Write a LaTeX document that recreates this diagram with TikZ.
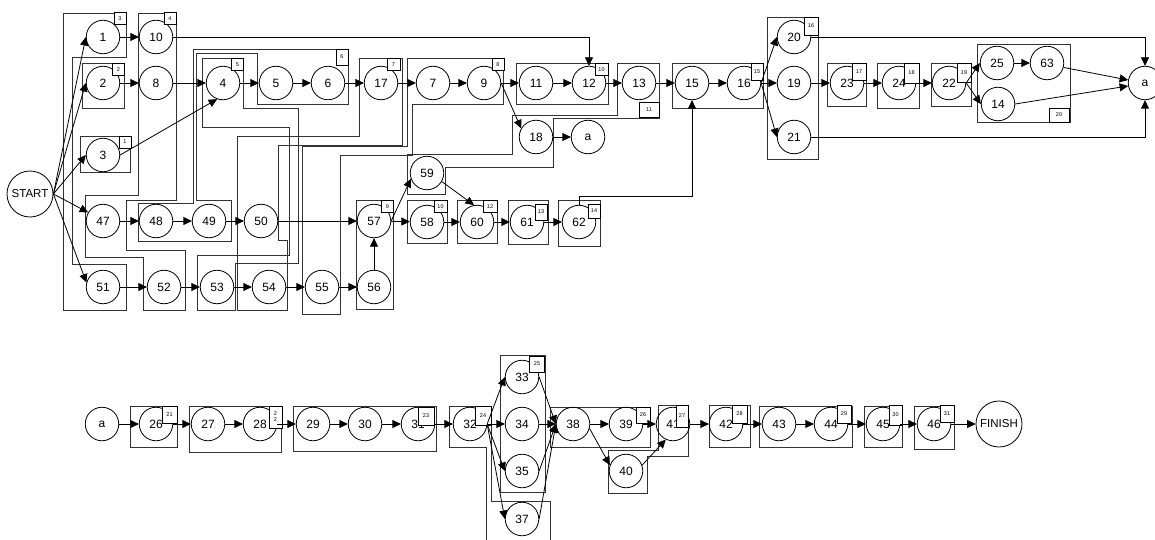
\documentclass[tikz,border=0pt]{standalone}
\usepackage{fontspec}
\setmainfont{Liberation Sans}
\usetikzlibrary{arrows.meta}
\begin{document}
\begin{tikzpicture}[x=1pt,y=-1pt,
  nd/.style={circle,draw,line width=0.8pt,minimum size=33.5pt,inner sep=0pt,font=\fontsize{12}{12}\selectfont},
  big/.style={nd,minimum size=46pt,font=\fontsize{11.5}{12}\selectfont},
  lab/.style={draw,fill=white,line width=0.7pt,minimum width=12pt,minimum height=12pt,inner sep=0pt,font=\fontsize{5.5}{6}\selectfont},
  ws/.style={draw=black!80,line width=0.8pt},
  arr/.style={draw,line width=0.8pt,-{Triangle[length=8.5pt,width=8pt]}},
]
\useasboundingbox (0,0) rectangle (1155,540);
% ---------- workstation outlines ----------
\draw[ws] (80,136) rectangle (130,172);
\draw[ws] (82,63) rectangle (124,108);
\draw[ws] (63,13)--(126,13)--(126,57)--(72,57)--(72,264)--(126,264)--(126,310)--(63,310)--cycle;
\draw[ws] (138,13)--(176,13)--(176,200)--(126,200)--(126,250)--(185,250)--(185,310)--(143,310)--(143,257)--(85,257)--(85,195)--(138,195)--cycle;
\draw[ws] (202,58)--(243,58)--(243,108)--(298,108)--(298,263)--(235,263)--(235,310)--(197,310)--(197,255)--(289,255)--(289,127)--(202,127)--cycle;
\draw[ws] (193,49)--(348,49)--(348,104)--(257,104)--(257,53)--(196,53)--(196,200)--(231,200)--(231,241)--(138,241)--(138,203)--(193,203)--cycle;
\draw[ws] (359,58)--(402,58)--(402,145)--(278,145)--(278,240)--(287,240)--(287,310)--(237,310)--(237,136)--(359,136)--cycle;
\draw[ws] (407,58)--(503,58)--(503,104)--(412,104)--(412,155)--(340,155)--(340,314)--(302,314)--(302,146)--(407,146)--cycle;
\draw[ws] (356,200) rectangle (393,309);
\draw[ws] (516,63) rectangle (608,104);
\draw[ws] (407,200) rectangle (447,243);
\draw[ws] (617,63)--(659,63)--(659,118)--(553,118)--(553,167)--(445,167)--(445,194)--(407,194)--(407,154)--(512,154)--(512,115)--(617,115)--cycle;
\draw[ws] (457,200) rectangle (497,243);
\draw[ws] (508,200) rectangle (548,244);
\draw[ws] (558,200) rectangle (600,246);
\draw[ws] (672,63) rectangle (763,108);
\draw[ws] (767,17) rectangle (818,159);
\draw[ws] (827,63) rectangle (866,106);
\draw[ws] (877,63) rectangle (919,108);
\draw[ws] (931,63) rectangle (971,106);
\draw[ws] (977,44) rectangle (1070,122);
\draw[ws] (130,406) rectangle (177,447);
\draw[ws] (189,406) rectangle (281,452);
\draw[ws] (293,406) rectangle (436,451);
\draw[ws] (449,406)--(491,406)--(491,501)--(550,501)--(550,545)--(486,545)--(486,447)--(449,447)--cycle;
\draw[ws] (500,355) rectangle (545,492);
\draw[ws] (550,407) rectangle (650,447);
\draw[ws] (658,405)--(688,405)--(688,456)--(647,456)--(647,493)--(608,493)--(608,450)--(658,450)--cycle;
\draw[ws] (709,405) rectangle (750,447);
\draw[ws] (759,406) rectangle (852,447);
\draw[ws] (864,406) rectangle (902,447);
\draw[ws] (914,406) rectangle (954,449);
% ---------- nodes top ----------
\node[big] (START) at (30,194) {START};
\node[nd] (n1) at (103,37) {1};
\node[nd] (n10) at (156,37) {10};
\node[nd] (n2) at (103,83) {2};
\node[nd] (n8) at (156,83) {8};
\node[nd] (n3) at (103,155) {3};
\node[nd] (n47) at (103,221) {47};
\node[nd] (n48) at (156,221) {48};
\node[nd] (n51) at (103,287) {51};
\node[nd] (n52) at (164,287) {52};
\node[nd] (n4) at (223,83) {4};
\node[nd] (n5) at (276,83) {5};
\node[nd] (n6) at (328,83) {6};
\node[nd] (n17) at (381,83) {17};
\node[nd] (n7) at (433,83) {7};
\node[nd] (n9) at (484,83) {9};
\node[nd] (n11) at (536,83) {11};
\node[nd] (n12) at (589,83) {12};
\node[nd] (n13) at (639,83) {13};
\node[nd] (n15) at (692,83) {15};
\node[nd] (n16) at (744,83) {16};
\node[nd] (n20) at (794,37) {20};
\node[nd] (n19) at (794,83) {19};
\node[nd] (n21) at (794,137) {21};
\node[nd] (n23) at (847,83) {23};
\node[nd] (n24) at (899,83) {24};
\node[nd] (n22) at (949,83) {22};
\node[nd] (n25) at (997,63) {25};
\node[nd] (n63) at (1047,63) {63};
\node[nd] (n14) at (998,104) {14};
\node[nd] (aR) at (1145,83) {a};
\node[nd] (n18) at (536,137) {18};
\node[nd] (aT) at (588,137) {a};
\node[nd] (n49) at (209,221) {49};
\node[nd] (n50) at (261,221) {50};
\node[nd] (n57) at (374,221) {57};
\node[nd] (n59) at (427,173) {59};
\node[nd] (n58) at (427,222) {58};
\node[nd] (n60) at (477,222) {60};
\node[nd] (n61) at (527,222) {61};
\node[nd] (n62) at (579,222) {62};
\node[nd] (n53) at (217,287) {53};
\node[nd] (n54) at (269,287) {54};
\node[nd] (n55) at (322,287) {55};
\node[nd] (n56) at (374,287) {56};
% ---------- nodes bottom ----------
\node[nd] (aB) at (102,424) {a};
\node[nd] (n26) at (156,424) {26};
\node[nd] (n27) at (208,424) {27};
\node[nd] (n28) at (260,424) {28};
\node[nd] (n29) at (313,424) {29};
\node[nd] (n30) at (365,424) {30};
\node[nd] (n31) at (418,424) {31};
\node[nd] (n32) at (470,424) {32};
\node[nd] (n33) at (522,377) {33};
\node[nd] (n34) at (522,424) {34};
\node[nd] (n35) at (522,471) {35};
\node[nd] (n37) at (522,519) {37};
\node[nd] (n38) at (573,424) {38};
\node[nd] (n39) at (626,424) {39};
\node[nd] (n40) at (626,471) {40};
\node[nd] (n41) at (673,424) {41};
\node[nd] (n42) at (726,424) {42};
\node[nd] (n43) at (779,424) {43};
\node[nd] (n44) at (831,424) {44};
\node[nd] (n45) at (883,424) {45};
\node[nd] (n46) at (934,424) {46};
\node[big] (FIN) at (999,424) {FINISH};
% ---------- workstation labels ----------
\node[lab] (L1) at (125,142) {1};
\node[lab] (L2) at (118.5,69.5) {2};
\node[lab] (L3) at (120,18.5) {3};
\node[lab] (L4) at (170,18.5) {4};
\node[lab] (L5) at (237.5,64.5) {5};
\node[lab,minimum height=16pt] (L6) at (342,57) {6};
\node[lab,minimum width=13pt] (L7) at (393.5,64.5) {7};
\node[lab] (L8) at (498,64.5) {8};
\node[lab,minimum width=13pt] (L10a) at (601.5,69.5) {10};
\node[lab,minimum width=20pt,minimum height=15pt] (L11) at (649,110) {11};
\node[lab,minimum height=17pt] (L15) at (757,71.5) {15};
\node[lab,minimum width=14pt,minimum height=18pt] (L16) at (811,26) {16};
\node[lab,minimum width=14pt,minimum height=17pt] (L17) at (859,71.5) {17};
\node[lab,minimum width=15pt,minimum height=20pt] (L18) at (911.5,73) {18};
\node[lab,minimum width=14pt,minimum height=19pt] (L19) at (964,72.5) {19};
\node[lab,minimum width=20pt,minimum height=14pt] (L20) at (1059,115) {20};
\node[lab] (L9) at (387.5,206.5) {9};
\node[lab,minimum width=13pt] (L10b) at (440.5,206.5) {10};
\node[lab,minimum width=14pt] (L12) at (490,206.5) {12};
\node[lab,minimum height=16pt] (L13) at (541,212) {13};
\node[lab,minimum height=14pt] (L14) at (594,211) {14};
\node[lab,minimum width=15pt,minimum height=17pt] (L21) at (169.5,414.5) {21};
\node[lab,minimum width=13pt,minimum height=22pt,align=center] (L22) at (275.5,417) {2\\2};
\node[lab,minimum width=16pt,minimum height=18pt] (L23) at (426,416) {23};
\node[lab,minimum width=16pt,minimum height=19pt] (L24) at (483,415.5) {24};
\node[lab,minimum width=15pt,minimum height=16pt] (L25) at (537,364) {25};
\node[lab,minimum width=14pt,minimum height=16pt] (L26) at (643,415) {26};
\node[lab,minimum width=12pt,minimum height=22pt] (L27) at (682,416) {27};
\node[lab,minimum width=15pt,minimum height=18pt] (L28) at (739.5,414) {28};
\node[lab,minimum width=14pt,minimum height=18pt] (L29) at (844,414) {29};
\node[lab,minimum width=13pt,minimum height=20pt] (L30) at (895.5,415) {30};
\node[lab,minimum width=14pt,minimum height=17pt] (L31) at (947,413.5) {31};
% ---------- connectors top ----------
\draw[arr] (START.east) -- (n1.west);
\draw[arr] (START.east) -- (n2.west);
\draw[arr] (START.east) -- (n3.west);
\draw[arr] (START.east) -- (n47.150);
\draw[arr] (START.east) -- (n51.165);
\draw[arr] (n1) -- (n10);
\draw[arr] (n2) -- (n8);
\draw[arr] (n3.east) -- (n4.250);
\draw[arr] (n10.east) -| (n12.north);
\draw[arr] (n8) -- (n4);
\draw[arr] (n4) -- (n5);
\draw[arr] (n5) -- (n6);
\draw[arr] (n6) -- (n17);
\draw[arr] (n17) -- (n7);
\draw[arr] (n7) -- (n9);
\draw[arr] (n9) -- (n11);
\draw[arr] (n11) -- (n12);
\draw[arr] (n12) -- (n13);
\draw[arr] (n13) -- (n15);
\draw[arr] (n15) -- (n16);
\draw[arr] (n16) -- (n19);
\draw[arr] (n19) -- (n23);
\draw[arr] (n23) -- (n24);
\draw[arr] (n24) -- (n22);
\draw[arr] (n25) -- (n63);
\draw[arr] (n9.east) -- (n18.150);
\draw[arr] (n18) -- (aT);
\draw[arr] (n16.east) -- (n20.west);
\draw[arr] (n16.east) -- (n21.west);
\draw[arr] (n22.east) -- (n25.west);
\draw[arr] (n22.east) -- (n14.west);
\draw[arr] (n63.-15) -- (aR.170);
\draw[arr] (n14.east) -- (aR.190);
\draw[arr] (n20.east) -| (aR.north);
\draw[arr] (n21.east) -| (aR.south);
\draw[arr] (n47) -- (n48);
\draw[arr] (n48) -- (n49);
\draw[arr] (n49) -- (n50);
\draw[arr] (n50) -- (n57);
\draw[arr] (n51) -- (n52);
\draw[arr] (n52) -- (n53);
\draw[arr] (n53) -- (n54);
\draw[arr] (n54) -- (n55);
\draw[arr] (n55) -- (n56);
\draw[arr] (n56) -- (n57);
\draw[arr] (n57) -- (n58);
\draw[arr] (n58) -- (n60);
\draw[arr] (n60) -- (n61);
\draw[arr] (n61) -- (n62);
\draw[arr] (n57.east) -- (n59.200);
\draw[arr] (n59.-30) -- (n60.100);
\draw[arr] (n62.north) -- ++(0,-8) -| (n15.south);
% ---------- connectors bottom ----------
\draw[arr] (aB) -- (n26);
\draw[arr] (n26) -- (n27);
\draw[arr] (n27) -- (n28);
\draw[arr] (n28) -- (n29);
\draw[arr] (n29) -- (n30);
\draw[arr] (n30) -- (n31);
\draw[arr] (n31) -- (n32);
\draw[arr] (n32.east) -- (n33.west);
\draw[arr] (n32) -- (n34);
\draw[arr] (n32.east) -- (n35.west);
\draw[arr] (n32.east) -- (n37.west);
\draw[arr] (n33.east) -- (n38.west);
\draw[arr] (n34) -- (n38);
\draw[arr] (n35.east) -- (n38.west);
\draw[arr] (n37.east) -- (n38.west);
\draw[arr] (n38) -- (n39);
\draw[arr] (n38.-15) -- (n40.160);
\draw[arr] (n39) -- (n41);
\draw[arr] (n40.20) -- (n41.245);
\draw[arr] (n41) -- (n42);
\draw[arr] (n42) -- (n43);
\draw[arr] (n43) -- (n44);
\draw[arr] (n44) -- (n45);
\draw[arr] (n45) -- (n46);
\draw[arr] (n46) -- (FIN);
\end{tikzpicture}
\end{document}
